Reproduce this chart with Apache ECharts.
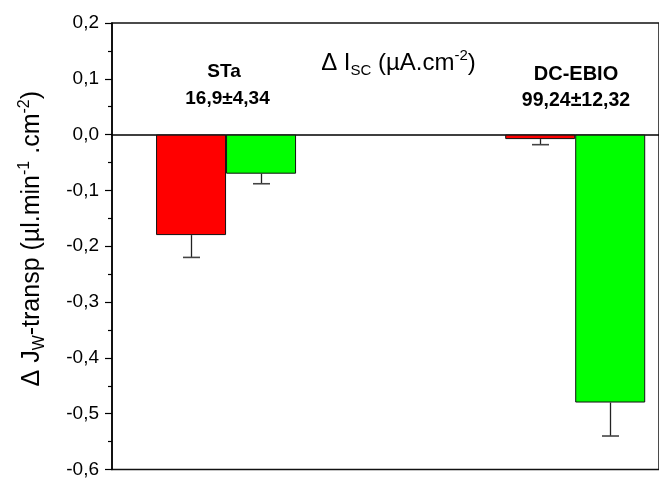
<!DOCTYPE html>
<html>
<head>
<meta charset="utf-8">
<script src="https://cdn.jsdelivr.net/npm/echarts@6/dist/echarts.min.js"></script>
<style>
  html, body { margin: 0; padding: 0; background: #fff; }
  #chart { width: 659px; height: 479px; }
</style>
</head>
<body>
<div id="chart"></div>
<script>
// Treatments and where they sit on the hidden numeric x axis
const groups = ['STa', 'DC-EBIO'];
const groupX = [1, 4];
// Change in short-circuit current reported for each treatment
const iscText = ['16,9±4,34', '99,24±12,32'];
// Change in transepithelial water flux: mean and error, two series per treatment
const redValues = [-0.18, -0.008];
const redErrors = [0.04, 0.01];
const greenValues = [-0.07, -0.48];
const greenErrors = [0.018, 0.06];
// Value axis range and step
const yMin = -0.6;
const yMax = 0.2;
const yStep = 0.1;

const FONT = '"Liberation Sans", Arial, Helvetica, sans-serif';
const BAR_W = 70;
const CAP = 8.5;

function commaDecimal(v) {
  if (Math.abs(v) < 1e-9) return '0,0';
  return v.toFixed(1).replace('.', ',');
}

function errorBars(offset) {
  return function (params, api) {
    const x = api.value(0);
    const v = api.value(1);
    const e = api.value(2);
    const p0 = api.coord([x, v]);
    const p1 = api.coord([x, v - e]);
    const cx = Math.round(p0[0] + offset) + 0.5;
    return {
      type: 'group',
      children: [
        { type: 'line', shape: { x1: cx, y1: p0[1], x2: cx, y2: p1[1] },
          style: { stroke: '#222', lineWidth: 1.3 } },
        { type: 'line', shape: { x1: cx - CAP, y1: p1[1], x2: cx + CAP, y2: p1[1] },
          style: { stroke: '#444', lineWidth: 1.6 } }
      ]
    };
  };
}

const chart = echarts.init(document.getElementById('chart'), null, { renderer: 'canvas' });

// Rich-text styles for main text, subscripts and superscripts
function richStyles(size, small) {
  return {
    n: { fontSize: size, lineHeight: Math.round(size * 1.25), fontFamily: FONT, color: '#000' },
    sub: { fontSize: small, lineHeight: small, verticalAlign: 'bottom', fontFamily: FONT, color: '#000' },
    sup: { fontSize: small, lineHeight: small, verticalAlign: 'top', fontFamily: FONT, color: '#000' }
  };
}

chart.setOption({
  animation: false,
  backgroundColor: '#fff',
  grid: {
    left: 112, right: -6, top: 23, bottom: 5,
    show: true, borderColor: '#111', borderWidth: 1.5
  },
  xAxis: {
    type: 'value', min: 0.02, max: 4.72,
    axisLine: { show: true, onZero: true, lineStyle: { color: '#000', width: 1.5 } },
    axisTick: { show: false }, axisLabel: { show: false }, splitLine: { show: false }
  },
  yAxis: {
    type: 'value', min: yMin, max: yMax, interval: yStep,
    axisLine: { show: true, lineStyle: { color: '#000', width: 1.5 } },
    axisTick: { show: true, inside: false, length: 7, lineStyle: { color: '#000', width: 1.2 } },
    minorTick: { show: true, splitNumber: 2, length: 4, lineStyle: { color: '#000', width: 1.2 } },
    splitLine: { show: false },
    axisLabel: {
      margin: 13, fontSize: 19, fontFamily: FONT, color: '#000',
      formatter: commaDecimal
    },
    name: '{n|Δ J}{sub|W}{n|-transp (µl.min}{sup|-1}{n| .cm}{sup|-2}{n|)}',
    nameLocation: 'middle',
    nameRotate: 90,
    nameGap: 64,
    nameTextStyle: { fontSize: 25, fontFamily: FONT, color: '#000', padding: [0, 0, 0, 15], rich: richStyles(25, 16) }
  },
  series: [
    {
      name: 'red', type: 'bar', barWidth: BAR_W, barGap: '0%',
      data: groupX.map((x, i) => [x, redValues[i]]),
      itemStyle: { color: '#ff0000', borderColor: '#111', borderWidth: 1 }
    },
    {
      name: 'green', type: 'bar', barWidth: BAR_W, barGap: '0%',
      data: groupX.map((x, i) => [x, greenValues[i]]),
      itemStyle: { color: '#00ff00', borderColor: '#111', borderWidth: 1 }
    },
    {
      type: 'custom', z: 5, encode: { x: 0, y: 1 },
      renderItem: errorBars(-BAR_W / 2),
      data: groupX.map((x, i) => [x, redValues[i], redErrors[i]])
    },
    {
      type: 'custom', z: 5, encode: { x: 0, y: 1 },
      renderItem: errorBars(BAR_W / 2),
      data: groupX.map((x, i) => [x, greenValues[i], greenErrors[i]])
    }
  ],
  graphic: [
    { type: 'text', x: 224, y: 71.8,
      style: { text: groups[0], font: 'bold 19px ' + FONT, fill: '#000',
               align: 'center', verticalAlign: 'middle', textAlign: 'center', textVerticalAlign: 'middle' } },
    { type: 'text', x: 227.5, y: 98.3,
      style: { text: iscText[0], font: 'bold 19px ' + FONT, fill: '#000',
               align: 'center', verticalAlign: 'middle', textAlign: 'center', textVerticalAlign: 'middle' } },
    { type: 'text', x: 576, y: 74.2,
      style: { text: groups[1], font: 'bold 20px ' + FONT, fill: '#000',
               align: 'center', verticalAlign: 'middle', textAlign: 'center', textVerticalAlign: 'middle' } },
    { type: 'text', x: 576, y: 100.8,
      style: { text: iscText[1], font: 'bold 19.5px ' + FONT, fill: '#000',
               align: 'center', verticalAlign: 'middle', textAlign: 'center', textVerticalAlign: 'middle' } },
    { type: 'text', x: 398.5, y: 63,
      style: { text: '{n|Δ I}{sub|SC}{n| (µA.cm}{sup|-2}{n|)}', rich: richStyles(24, 15),
               font: '24px ' + FONT, fill: '#000',
               align: 'center', verticalAlign: 'middle', textAlign: 'center', textVerticalAlign: 'middle' } }
  ]
});
</script>
</body>
</html>
